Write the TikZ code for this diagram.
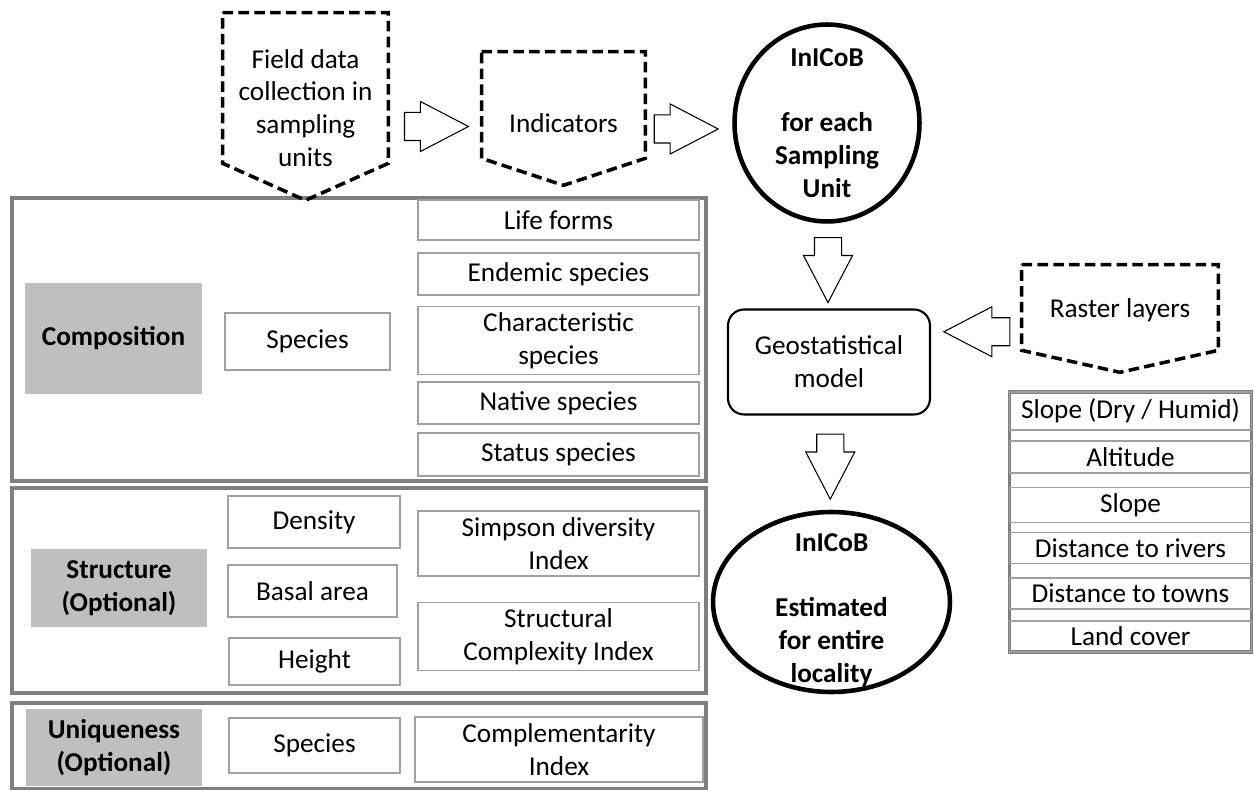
\documentclass[tikz,border=0pt]{standalone}
\usepackage{fontspec}
\setmainfont{Carlito}
\usetikzlibrary{shapes.geometric,shapes.arrows,calc}
\definecolor{framegray}{HTML}{7F7F7F}
\definecolor{boxgray}{HTML}{A0A0A0}
\definecolor{labelgray}{HTML}{BFBFBF}
\newcommand{\txt}{\fontsize{15.5}{18.7}\selectfont}
\newcommand{\pentagon}[2]{%
  \draw[dashbox] (#1.north west) -- (#1.north east) -- (#1.south east)
    -- ([yshift=-#2]#1.south) -- (#1.south west) -- cycle;}

\begin{document}
\begin{tikzpicture}[x=0.02cm,y=-0.02cm,
  every node/.style={font=\txt, align=center},
  secframe/.style={draw=framegray, line width=2pt, minimum width=13.88cm},
  graylabel/.style={fill=labelgray, font=\txt\bfseries},
  itembox/.style={draw=boxgray, line width=0.9pt},
  rowbox/.style={draw=boxgray, line width=0.9pt, minimum width=4.84cm},
  pentnode/.style={inner sep=0pt},
  dashbox/.style={line width=2pt, dash pattern=on 6pt off 3pt},
  ellip/.style={ellipse, draw, line width=2.6pt},
  boldtext/.style={font=\txt\bfseries},
  roundbox/.style={draw, line width=1.2pt, rounded corners=0.32cm},
  blockarrow/.style={single arrow, draw, line width=0.6pt, inner xsep=0pt,
    inner ysep=0.27cm, single arrow head extend=0.22cm,
    single arrow tip angle=55, minimum height=1.3cm},
  downarrow/.style={blockarrow, shape border rotate=270, inner xsep=0.26cm, inner ysep=0pt}]
  \useasboundingbox (0,0) rectangle (1254,790);

  \node[secframe, minimum height=5.66cm] (compframe) at (359,339.5) {};
  \node[secframe, minimum height=4.1cm] (strframe) at (359,590.5) {};
  \node[secframe, minimum height=1.72cm] (uniqframe) at (359,746) {};

  \node[graylabel, minimum width=3.54cm, minimum height=2.22cm] (complabel) at (113.5,338.5) {Composition};
  \node[graylabel, minimum width=3.52cm, minimum height=1.56cm] (strlabel) at (119,588) {Structure\\(Optional)};
  \node[graylabel, minimum width=3.52cm, minimum height=1.54cm] (uniqlabel) at (114,747.5) {Uniqueness\\(Optional)};

  \node[itembox, minimum width=3.3cm, minimum height=1.14cm] (compspecies) at (307.5,341.5) {Species};
  \node[itembox, minimum width=5.62cm, minimum height=0.8cm] (lifeforms) at (558.5,220) {Life forms};
  \node[itembox, minimum width=5.62cm, minimum height=0.84cm] (endemic) at (558.5,274) {Endemic species};
  \node[itembox, minimum width=5.62cm, minimum height=1.26cm] (charact) at (558.5,340.5) {Characteristic\\species};
  \node[itembox, minimum width=5.62cm, minimum height=0.84cm] (native) at (558.5,403) {Native species};
  \node[itembox, minimum width=5.62cm, minimum height=0.86cm] (status) at (558.5,454.5) {Status species};

  \node[itembox, minimum width=3.44cm, minimum height=1.04cm] (density) at (314,522) {Density};
  \node[itembox, minimum width=3.38cm, minimum height=1.04cm] (basal) at (312.5,591) {Basal area};
  \node[itembox, minimum width=3.42cm, minimum height=0.94cm] (height) at (314.5,661.5) {Height};
  \node[itembox, minimum width=5.62cm, minimum height=1.3cm] (simpson) at (558.5,543.5) {Simpson diversity\\Index};
  \node[itembox, minimum width=5.62cm, minimum height=1.3cm] (structural) at (558.5,636.5) {Structural\\Complexity Index};

  \node[itembox, minimum width=3.42cm, minimum height=1.1cm] (uniqspecies) at (314.5,745.5) {Species};
  \node[itembox, minimum width=5.76cm, minimum height=1.3cm] (complement) at (559,749.5) {Complementarity\\Index};

  \node[pentnode, minimum width=3.3cm, minimum height=3cm] (field) at (305.5,88) {};
  \node (fieldtext) at ([yshift=-0.4cm]field.center) {Field data\\collection in\\sampling\\units};
  \pentagon{field}{0.74cm}
  \node[pentnode, minimum width=3.26cm, minimum height=2.12cm] (indicators) at (563.5,105) {};
  \node (indtext) at ([yshift=-0.36cm]indicators.center) {Indicators};
  \pentagon{indicators}{0.54cm}
  \node[pentnode, minimum width=3.92cm, minimum height=1.7cm] (raster) at (1120,307.5) {};
  \node (rastertext) at ([yshift=-0.05cm]raster.center) {Raster layers};
  \pentagon{raster}{0.44cm}

  \node[ellip, minimum width=3.7cm, minimum height=3.94cm] (unit) at (827,123) {};
  \node[boldtext] (unittext) at (unit) {InICoB\\[18.7pt]for each\\Sampling\\Unit};
  \node[roundbox, minimum width=4.04cm, minimum height=2.1cm] (geo) at (829,362) {Geostatistical\\model};
  \node[ellip, minimum width=4.74cm, minimum height=3.6cm] (locality) at (831.5,602) {};
  \node[boldtext] (loctext) at ([yshift=-0.16cm]locality.center) {InICoB\\[18.7pt]Estimated\\for entire\\locality};

  \node[secframe, minimum width=4.84cm, minimum height=5.2cm] (layers) at (1130.5,522) {};
  \foreach \y/\h/\name [count=\i] in {411/38/{Slope (Dry / Humid)}, 457/32/Altitude,
    505/32/Slope, 548/30/Distance to rivers, 593.5/31/Distance to towns, 636.5/31/Land cover}
    \node[rowbox, minimum height=\h*0.02cm] (layer\i) at (1130.5,\y) {\name};

  \node[blockarrow, minimum height=1.28cm] (a1) at ($(field.east)!.5!(indicators.west)+(-12,30)$) {};
  \node[blockarrow, minimum height=1.28cm] (a2) at ($(indicators.east)!.5!(unit.west)+(-16,15)$) {};
  \node[downarrow] (a3) at ($(unit.south)!.5!(geo.north)+(0,-9)$) {};
  \node[downarrow] (a4) at ($(geo.south)!.5!(locality.north)+(0,-9)$) {};
  \node[blockarrow, shape border rotate=180, minimum height=1.32cm] (a5) at ($(raster.west)!.5!(geo.east)+(14,-3)$) {};
\end{tikzpicture}
\end{document}
